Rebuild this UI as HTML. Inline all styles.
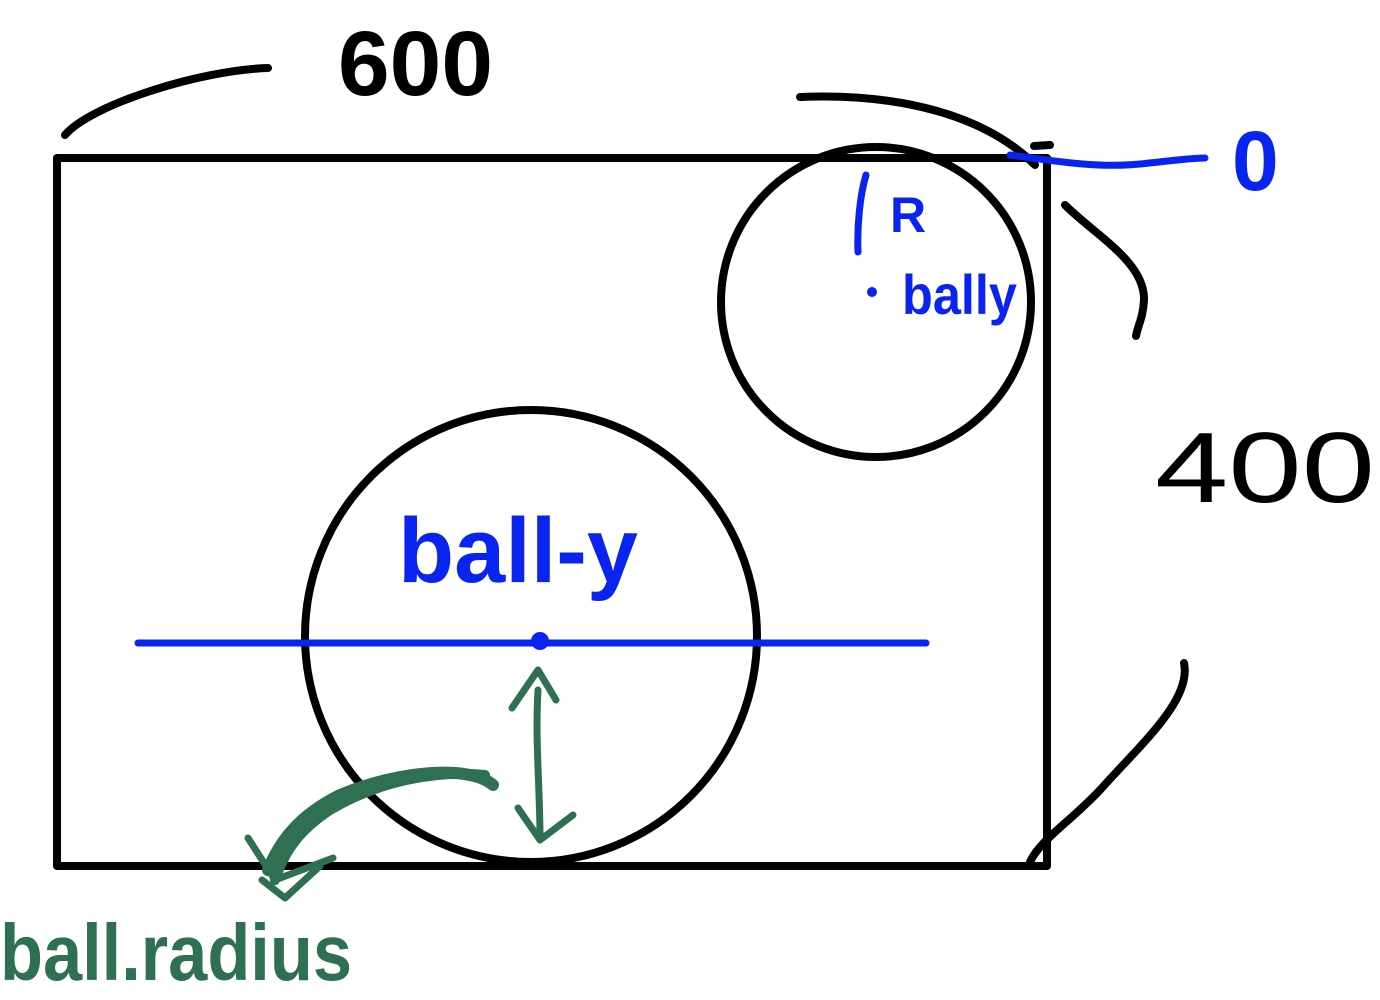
<!DOCTYPE html>
<html><head><meta charset="utf-8"><style>
html,body{margin:0;padding:0;background:#fff;}
svg{display:block;}
text{font-family:"Liberation Sans",sans-serif;}
</style></head><body>
<svg width="1380" height="1000" viewBox="0 0 1380 1000" xmlns="http://www.w3.org/2000/svg">
<g fill="none" stroke="#000" stroke-width="8" stroke-linecap="round" stroke-linejoin="round">
<rect x="57" y="158" width="990" height="708"/>
<circle cx="531" cy="636" r="226"/>
<circle cx="876" cy="302" r="155"/>
<path d="M65 135 C 90 105, 200 70, 268 68"/>
<path d="M800 97 C 900 93, 985 115, 1035 165"/>
<path d="M1065 205 C 1095 235, 1145 262, 1144 300 C 1143 318, 1138 325, 1136 336"/>
<path d="M1184 663 C 1192 700, 1140 745, 1100 790 C 1070 822, 1040 840, 1030 862"/>
<path d="M1034 146 L1050 145"/>
</g>
<g fill="none" stroke="#0a24f0" stroke-width="7" stroke-linecap="round">
<path d="M138 643 L926 643"/>
<path d="M1010 155 C 1060 162, 1100 168, 1140 164 C 1170 161, 1190 158, 1205 158"/>
<path d="M866 175 C 860 195, 857 225, 858 252"/>
</g>
<circle cx="540" cy="641" r="9" fill="#0a24f0"/>
<circle cx="872" cy="292" r="5" fill="#0a24f0"/>
<g fill="none" stroke="#2f6f52" stroke-width="7" stroke-linecap="round" stroke-linejoin="round">
<path d="M538 690 C 535 740, 540 790, 540 838"/>
<path d="M512 708 L538 670 L556 700"/>
<path d="M518 808 L540 840 L573 815"/>
<path d="M493 785 C 470 765, 400 770, 340 795 C 300 815, 280 840, 268 870" stroke-width="12"/>
<path d="M485 775 C 440 770, 380 780, 330 810 C 300 830, 285 850, 275 880" stroke-width="10"/>
<path d="M248 838 L275 880 L333 858"/>
<path d="M262 880 L285 898 L320 866"/>
</g>
<text x="338" y="95" font-size="92" fill="#000" font-weight="bold" textLength="155" lengthAdjust="spacingAndGlyphs">600</text>
<text x="1155" y="502" font-size="100" fill="#000" textLength="220" lengthAdjust="spacingAndGlyphs">400</text>
<text x="1232" y="190" font-size="84" fill="#0a24f0" font-weight="bold">0</text>
<text x="890" y="232" font-size="50" fill="#0a24f0" font-weight="bold">R</text>
<text x="902" y="314" font-size="56" fill="#0a24f0" font-weight="bold" textLength="115" lengthAdjust="spacingAndGlyphs">bally</text>
<text x="398" y="582" font-size="92" fill="#0a24f0" font-weight="bold" textLength="240" lengthAdjust="spacingAndGlyphs">ball-y</text>
<text x="0" y="980" font-size="80" fill="#2f6f52" font-weight="bold" textLength="352" lengthAdjust="spacingAndGlyphs">ball.radius</text>
</svg>
</body></html>
